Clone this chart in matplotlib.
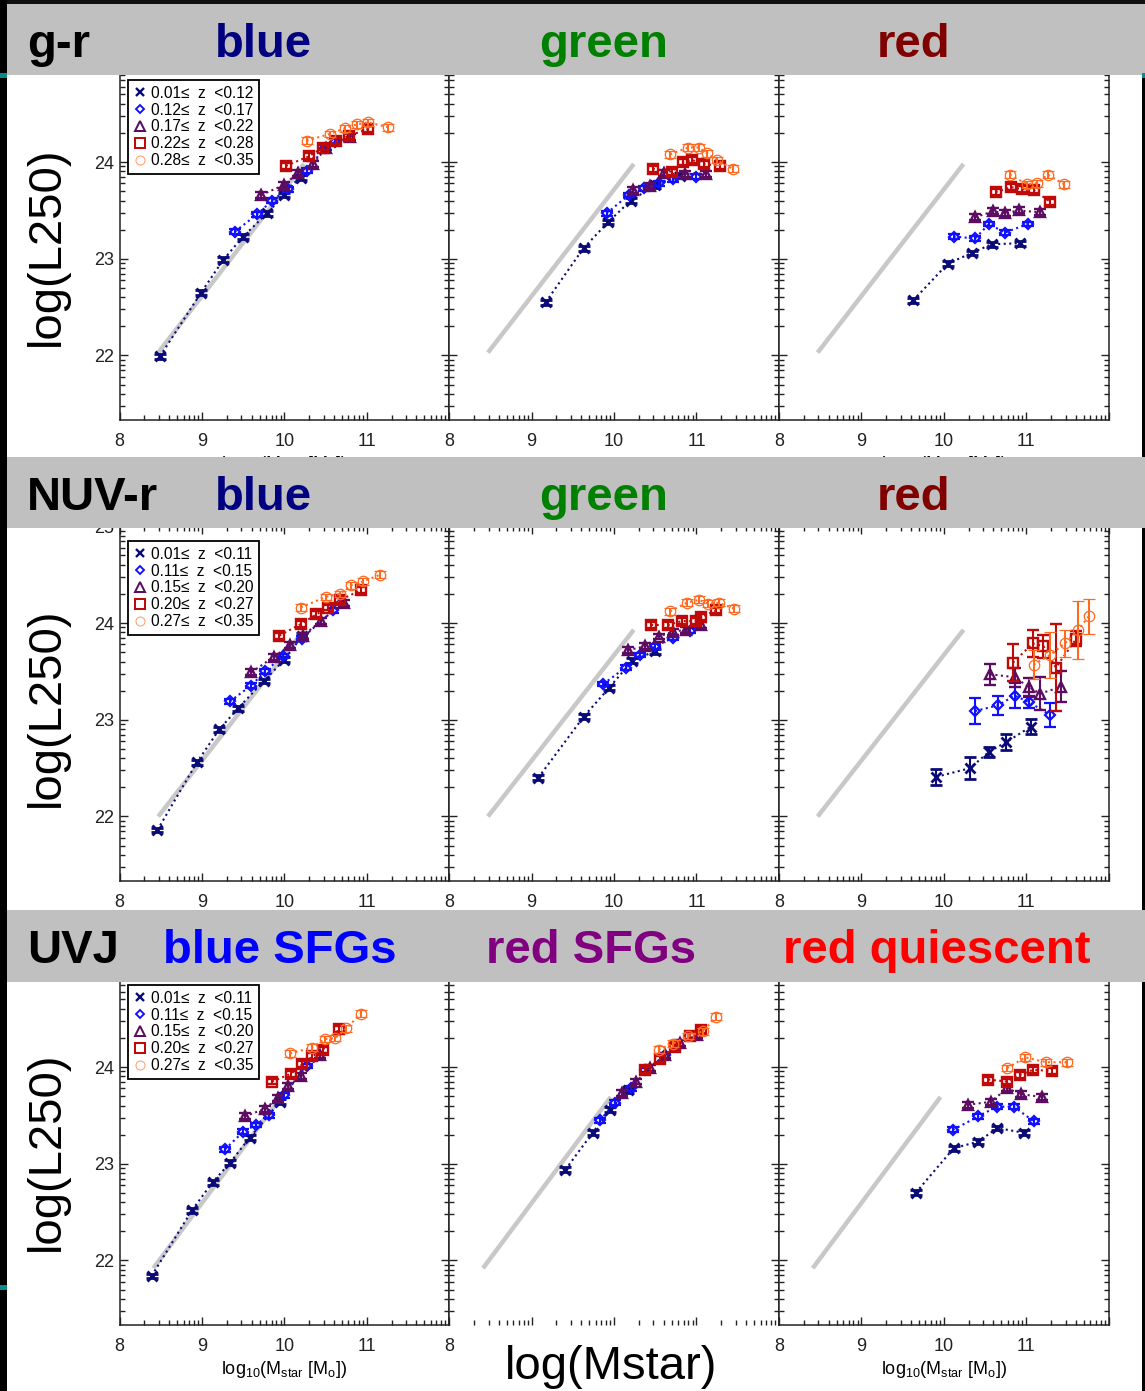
import matplotlib.pyplot as plt
import numpy as np
from matplotlib.lines import Line2D
from matplotlib.patches import Rectangle

plt.rcParams['font.family'] = ['Liberation Sans', 'DejaVu Sans']

W, H = 1145, 1391

# ---- labels -------------------------------------------------------------
row_names = ['g-r', 'NUV-r', 'UVJ']
col_titles = [['blue', 'green', 'red'],
              ['blue', 'green', 'red'],
              ['blue SFGs', 'red SFGs', 'red quiescent']]
col_title_colors = [['#000080', '#008000', '#800000'],
                    ['#000080', '#008000', '#800000'],
                    ['#0000ff', '#800080', '#ff0000']]
gr_zbins = ['0.01\u2264  z  <0.12', '0.12\u2264  z  <0.17', '0.17\u2264  z  <0.22',
            '0.22\u2264  z  <0.28', '0.28\u2264  z  <0.35']
nuv_zbins = ['0.01\u2264  z  <0.11', '0.11\u2264  z  <0.15', '0.15\u2264  z  <0.20',
             '0.20\u2264  z  <0.27', '0.27\u2264  z  <0.35']
uvj_zbins = nuv_zbins

# ---- data: log(Mstar) and log(L250) per redshift bin ----------------------
gr_blue_x = [[8.49, 8.99, 9.26, 9.50, 9.79, 10.00, 10.20],
             [9.40, 9.67, 9.85, 10.04, 10.27, 10.49, 10.62],
             [9.72, 9.99, 10.17, 10.35, 10.51, 10.80],
             [10.02, 10.30, 10.47, 10.63, 10.78, 11.01],
             [10.27, 10.55, 10.74, 10.88, 11.02, 11.26]]
gr_blue_y = [[21.99, 22.65, 22.99, 23.23, 23.47, 23.66, 23.84],
             [23.28, 23.46, 23.60, 23.72, 23.91, 24.15, 24.21],
             [23.66, 23.76, 23.89, 23.98, 24.15, 24.26],
             [23.96, 24.06, 24.15, 24.22, 24.27, 24.34],
             [24.22, 24.29, 24.35, 24.39, 24.41, 24.36]]

gr_green_x = [[9.17, 9.63, 9.93, 10.20, 10.50, 10.80],
              [9.91, 10.18, 10.36, 10.54, 10.72, 10.99],
              [10.23, 10.44, 10.60, 10.86, 11.11],
              [10.47, 10.70, 10.84, 10.95, 11.09, 11.28],
              [10.68, 10.90, 11.03, 11.13, 11.25, 11.44]]
gr_green_y = [[22.55, 23.11, 23.38, 23.60, 23.76, 23.86],
              [23.47, 23.66, 23.73, 23.78, 23.82, 23.85],
              [23.71, 23.75, 23.89, 23.88, 23.88],
              [23.93, 23.90, 24.00, 24.02, 23.98, 23.96],
              [24.08, 24.15, 24.15, 24.09, 24.02, 23.93]]

gr_red_x = [[9.63, 10.05, 10.34, 10.58, 10.92],
            [10.12, 10.38, 10.55, 10.74, 11.02],
            [10.38, 10.60, 10.74, 10.91, 11.17],
            [10.63, 10.82, 10.95, 11.09, 11.29],
            [10.80, 11.01, 11.13, 11.26, 11.46]]
gr_red_y = [[22.57, 22.95, 23.06, 23.15, 23.16],
            [23.23, 23.21, 23.36, 23.27, 23.36],
            [23.43, 23.49, 23.47, 23.50, 23.48],
            [23.69, 23.74, 23.72, 23.71, 23.59],
            [23.87, 23.77, 23.78, 23.87, 23.77]]

nuv_blue_x = [[8.46, 8.94, 9.21, 9.44, 9.75, 10.00, 10.22],
              [9.34, 9.59, 9.77, 9.98, 10.21, 10.59],
              [9.60, 9.87, 10.07, 10.23, 10.44, 10.72],
              [9.94, 10.20, 10.39, 10.53, 10.68, 10.93],
              [10.20, 10.50, 10.67, 10.81, 10.96, 11.16]]
nuv_blue_y = [[21.86, 22.56, 22.90, 23.12, 23.40, 23.62, 23.87],
              [23.19, 23.35, 23.50, 23.66, 23.84, 24.13],
              [23.49, 23.65, 23.77, 23.87, 24.02, 24.21],
              [23.87, 23.99, 24.09, 24.16, 24.24, 24.34],
              [24.16, 24.27, 24.30, 24.39, 24.43, 24.50]]

nuv_green_x = [[9.08, 9.63, 9.94, 10.22, 10.50],
               [9.87, 10.14, 10.32, 10.50, 10.72, 10.92],
               [10.17, 10.38, 10.54, 10.71, 10.87, 11.05],
               [10.45, 10.66, 10.82, 10.99, 11.05, 11.24],
               [10.68, 10.88, 11.03, 11.14, 11.27, 11.45]]
nuv_green_y = [[22.40, 23.03, 23.33, 23.61, 23.71],
               [23.37, 23.54, 23.67, 23.76, 23.85, 23.92],
               [23.72, 23.76, 23.86, 23.91, 23.93, 23.98],
               [23.98, 23.98, 24.02, 24.02, 24.06, 24.13],
               [24.12, 24.21, 24.24, 24.20, 24.21, 24.15]]

nuv_red_x = [[9.91, 10.32, 10.55, 10.76, 11.06],
             [10.38, 10.66, 10.86, 11.04, 11.29],
             [10.56, 10.86, 11.03, 11.17, 11.42],
             [10.84, 11.08, 11.21, 11.36, 11.61],
             [11.09, 11.29, 11.47, 11.63, 11.76]]
nuv_red_y = [[22.41, 22.50, 22.67, 22.77, 22.93],
             [23.09, 23.15, 23.25, 23.18, 23.05],
             [23.47, 23.44, 23.34, 23.27, 23.34],
             [23.59, 23.79, 23.76, 23.54, 23.84],
             [23.57, 23.67, 23.79, 23.93, 24.07]]
nuv_red_err = [[0.08, 0.11, 0.05, 0.08, 0.08],
               [0.13, 0.10, 0.13, 0.06, 0.12],
               [0.11, 0.10, 0.09, 0.17, 0.16],
               [0.19, 0.14, 0.12, 0.45, 0.08],
               [0.15, 0.24, 0.14, 0.30, 0.18]]

uvj_blue_x = [[8.39, 8.88, 9.13, 9.34, 9.58, 9.95],
              [9.28, 9.50, 9.65, 9.81, 9.99, 10.27],
              [9.52, 9.77, 9.92, 10.05, 10.20, 10.43],
              [9.85, 10.08, 10.22, 10.34, 10.47, 10.66],
              [10.07, 10.33, 10.49, 10.62, 10.75, 10.93]]
uvj_blue_y = [[21.84, 22.52, 22.81, 23.01, 23.27, 23.64],
              [23.15, 23.33, 23.40, 23.50, 23.71, 24.01],
              [23.49, 23.57, 23.68, 23.80, 23.91, 24.12],
              [23.85, 23.93, 24.03, 24.11, 24.18, 24.39],
              [24.14, 24.20, 24.29, 24.30, 24.40, 24.55]]

uvj_redsfg_x = [[9.41, 9.74, 9.95, 10.17],
                [9.83, 10.01, 10.20, 10.38, 10.62],
                [10.10, 10.27, 10.44, 10.62, 10.80, 11.01],
                [10.38, 10.56, 10.74, 10.92, 11.05],
                [10.54, 10.71, 10.90, 11.08, 11.24]]
uvj_redsfg_y = [[22.94, 23.32, 23.56, 23.76],
                [23.45, 23.63, 23.78, 23.97, 24.12],
                [23.73, 23.85, 23.99, 24.12, 24.25, 24.33],
                [23.97, 24.08, 24.21, 24.32, 24.38],
                [24.18, 24.24, 24.32, 24.37, 24.52]]

uvj_quies_x = [[9.66, 10.12, 10.42, 10.65, 10.97],
               [10.11, 10.42, 10.64, 10.85, 11.09],
               [10.29, 10.57, 10.77, 10.94, 11.19],
               [10.54, 10.77, 10.93, 11.08, 11.31],
               [10.77, 10.99, 11.24, 11.49]]
uvj_quies_y = [[22.70, 23.16, 23.23, 23.37, 23.32],
               [23.35, 23.49, 23.59, 23.59, 23.44],
               [23.61, 23.64, 23.78, 23.72, 23.69],
               [23.87, 23.85, 23.92, 23.97, 23.96],
               [23.99, 24.10, 24.05, 24.05]]

# typical (small) error per redshift bin where bars are hidden in the marker
small_err = [0.025, 0.025, 0.03, 0.03, 0.035]

# grey reference relation per row: (x0, x1), (y0, y1)
ref_x = [[8.47, 10.24], [8.47, 10.24], [8.41, 9.96]]
ref_y = [[22.03, 23.98], [22.00, 23.93], [21.92, 23.69]]

panels = [[(gr_blue_x, gr_blue_y, None), (gr_green_x, gr_green_y, None), (gr_red_x, gr_red_y, None)],
          [(nuv_blue_x, nuv_blue_y, None), (nuv_green_x, nuv_green_y, None), (nuv_red_x, nuv_red_y, nuv_red_err)],
          [(uvj_blue_x, uvj_blue_y, None), (uvj_redsfg_x, uvj_redsfg_y, None), (uvj_quies_x, uvj_quies_y, None)]]
zbins = [gr_zbins, nuv_zbins, uvj_zbins]

# ---- styles --------------------------------------------------------------
z_colors = ['#0b0b78', '#1010ff', '#5c0d62', '#c00a0a', '#ff6a20']
z_markers = ['x', 'D', '^', 's', 'o']
z_ms = [7, 5.5, 7.5, 7.5, 7.5]
z_mew = [2.0, 1.6, 1.7, 1.7, 0.9]

W_PAN = 329.7
COL_LEFT = [119.5, 449.2, 778.9]
ROW_TOP = [65.3, 526.3, 970.3]
ROW_H = 355.0
BANDS = [(4, 75), (457, 528), (910, 982)]
BAND_BASE = [57, 510, 963]
TITLE_X = [[264, 604, 914], [264, 604, 914], [280, 591, 937]]


def frect(x0, y0, w, h):
    return [x0 / W, 1 - (y0 + h) / H, w / W, h / H]


fig = plt.figure(figsize=(W / 100, H / 100), dpi=100)
fig.patch.set_facecolor('white')

xminor = [n + np.log10(k) for n in range(8, 12) for k in range(2, 10)]
yminor = [n + np.log10(k) for n in range(21, 25) for k in range(2, 10)]
yminor = [v for v in yminor if v > 21.33]
xlab = r'log$_{\mathregular{10}}$(M$_{\mathregular{star}}$ [M$_{\mathregular{o}}$])'

for r in range(3):
    for c in range(3):
        ax = fig.add_axes(frect(COL_LEFT[c], ROW_TOP[r], W_PAN, ROW_H))
        xs, ys, errs = panels[r][c]
        ax.plot(ref_x[r], ref_y[r], color='#c8c8c8', lw=3.2, solid_capstyle='butt', zorder=1)
        for i in range(5):
            e = errs[i] if errs is not None else small_err[i]
            ax.plot(xs[i], ys[i], ls=':', color=z_colors[i], lw=1.5, zorder=2 + i)
            ax.errorbar(xs[i], ys[i], yerr=e, fmt=z_markers[i], color=z_colors[i],
                        mfc='none', ms=z_ms[i], mew=z_mew[i], elinewidth=1.5,
                        capsize=4.5, capthick=1.5, ls='none', zorder=2.5 + i)
        ax.set_xlim(8, 12)
        ax.set_ylim(21.33, 25.0)
        ax.set_xticks([8, 9, 10, 11, 12])
        if r == 2 and c == 1:
            ax.set_xticklabels(['8', '', '', '', ''])
            ax.spines['bottom'].set_visible(False)
        else:
            ax.set_xticklabels(['8', '9', '10', '11', ''])
        ax.set_xticks(xminor, minor=True)
        ax.set_yticks([22, 23, 24, 25])
        ax.set_yticks(yminor, minor=True)
        if c == 0:
            ax.set_yticklabels(['22', '23', '24', '25'])
        else:
            ax.set_yticklabels([])
        ax.tick_params(which='both', direction='in', top=True, right=True,
                       labelsize=13, colors='#222222', width=1)
        ax.tick_params(which='major', length=6)
        ax.tick_params(which='minor', length=3.5)
        ax.tick_params(axis='x', pad=9)
        ax.tick_params(axis='y', pad=4)
        for s in ax.spines.values():
            s.set_color('#222222')
            s.set_linewidth(1.1)
        if c != 1:
            ax.set_xlabel(xlab, fontsize=13, labelpad=3)
        if c == 0:
            handles = [Line2D([0], [0], marker=z_markers[i], ls='none', color=z_colors[i],
                              mfc='none', ms=z_ms[i] - 1.0, mew=z_mew[i] * 0.85)
                       for i in range(5)]
            handles[4].set_color('#ffa070')
            leg = ax.legend(handles, zbins[r], loc='upper left', bbox_to_anchor=(0.026, 0.958),
                            fontsize=11.2, frameon=True, fancybox=False, edgecolor='black',
                            framealpha=1, handlelength=0.8, handletextpad=0.3,
                            labelspacing=0.12, borderpad=0.35, borderaxespad=0)
            leg.get_frame().set_linewidth(1.3)

# ---- slide decoration: title bands, edges, big labels -----------------------
fig.add_artist(Rectangle((0, 1 - 4 / H), 1, 4 / H, transform=fig.transFigure,
                         facecolor='#101010', edgecolor='none', zorder=2))
fig.add_artist(Rectangle((0, 0), 7 / W, 1, transform=fig.transFigure,
                         facecolor='black', edgecolor='none', zorder=2))
fig.add_artist(Rectangle((1142 / W, 0), 3 / W, 1 - 75 / H, transform=fig.transFigure,
                         facecolor='black', edgecolor='none', zorder=2))
for (tx, ty, tw) in [(0, 73, 7), (0, 1285, 7), (1142, 73, 3)]:
    fig.add_artist(Rectangle((tx / W, 1 - (ty + 5) / H), tw / W, 5 / H,
                             transform=fig.transFigure, facecolor='#0a8a8a',
                             edgecolor='none', zorder=2.5))

for r in range(3):
    b0, b1 = BANDS[r]
    fig.add_artist(Rectangle((7 / W, 1 - b1 / H), (1145 - 7) / W, (b1 - b0) / H,
                             transform=fig.transFigure, facecolor='#c0c0c0',
                             edgecolor='none', zorder=2))
    fig.text(27 / W, 1 - BAND_BASE[r] / H, row_names[r], ha='left', va='baseline',
             fontsize=34, fontweight='bold', color='black', zorder=4)
    for c in range(3):
        fig.text(TITLE_X[r][c] / W, 1 - BAND_BASE[r] / H, col_titles[r][c],
                 ha='center', va='baseline', fontsize=34, fontweight='bold',
                 color=col_title_colors[r][c], zorder=4)
    fig.text(47 / W, 1 - (ROW_TOP[r] + 181) / H, 'log(L250)', rotation=90,
             ha='center', va='center', fontsize=34, color='black', zorder=4)

fig.text(611 / W, 1 - 1379 / H, 'log(Mstar)', ha='center', va='baseline',
         fontsize=34, color='black', zorder=4)

fig.savefig('out.png', dpi=100, facecolor=fig.get_facecolor())
